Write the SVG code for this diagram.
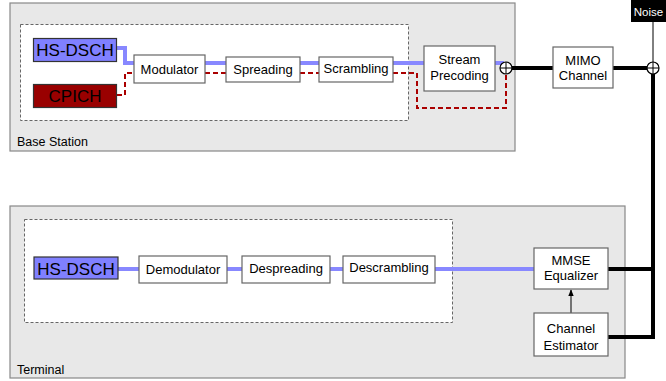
<svg xmlns="http://www.w3.org/2000/svg" width="666" height="381" viewBox="0 0 666 381">
<style>
text{font-family:"Liberation Sans",Arial,sans-serif;font-size:13px;fill:#000;text-anchor:middle}
.region{fill:#e8e8e8;stroke:#888;stroke-width:1.2}
.inner{fill:#fff;stroke:#666;stroke-width:1;stroke-dasharray:3,2}
.blk{fill:#fff;stroke:#666;stroke-width:1.2}
.lbl{text-anchor:start;font-size:12.5px}
.big{font-size:17px}
.blue{fill:none;stroke:#8888ff;stroke-width:4}
.red{fill:none;stroke:#aa0000;stroke-width:2;stroke-dasharray:5,3}
.thick{fill:none;stroke:#000;stroke-width:4}
.thin{fill:none;stroke:#000;stroke-width:1}
.sum{fill:#fff;stroke:#000;stroke-width:1.2}
</style>
<defs>
<marker id="ah" viewBox="0 0 10 10" refX="9" refY="5" markerWidth="7" markerHeight="7" orient="auto">
<path d="M0,1 L10,5 L0,9 z" fill="#000"/>
</marker>
</defs>

<g id="base-station">
<rect class="region" x="10" y="3" width="505" height="148"/>
<rect class="inner" x="20.5" y="24.5" width="388" height="96"/>
<text class="lbl" x="17" y="146">Base Station</text>
</g>
<g id="terminal">
<rect class="region" x="10" y="206" width="615" height="172"/>
<rect class="inner" x="24.5" y="219.5" width="428" height="103"/>
<text class="lbl" x="17" y="374">Terminal</text>
</g>

<g id="connectors">
<path class="blue" d="M117,48 H125 V63 H134"/>
<path class="red" d="M117,95 H125 V73 H134"/>
<path class="blue" d="M205,63 H226"/>
<path class="red" d="M205,73 H226"/>
<path class="blue" d="M300,63 H319"/>
<path class="red" d="M300,73 H319"/>
<path class="blue" d="M393,63 H424"/>
<path class="red" d="M393,73 H417 V108 H506 V74"/>
<path class="blue" d="M495,63 H504"/>
<path class="thick" d="M511,68 H553"/>
<path class="thick" d="M613,68 H647"/>
<path class="thin" d="M653,22 V62"/>
<path class="thick" d="M653,74 V339"/>
<path class="thick" d="M608,269 H653"/>
<path class="thick" d="M608,337 H653"/>
<path class="blue" d="M118,269 H139"/>
<path class="blue" d="M227,269 H242"/>
<path class="blue" d="M330,269 H343"/>
<path class="blue" d="M435,269 H534"/>
<path class="thin" d="M571,313 V290" marker-end="url(#ah)"/>
</g>

<g id="hs-dsch-tx">
<rect x="33.5" y="38.5" width="83" height="23" fill="#8080ff" stroke="#333" stroke-width="1.2"/>
<text class="big" x="75" y="56">HS-DSCH</text>
</g>
<g id="cpich">
<rect x="33.5" y="84.5" width="83" height="23" fill="#990000" stroke="#333" stroke-width="1.2"/>
<text class="big" x="75" y="102">CPICH</text>
</g>
<g id="modulator">
<rect class="blk" x="134" y="55" width="71" height="28"/>
<text x="169.5" y="74">Modulator</text>
</g>
<g id="spreading">
<rect class="blk" x="226" y="57" width="74" height="25"/>
<text x="263" y="74">Spreading</text>
</g>
<g id="scrambling">
<rect class="blk" x="319" y="57" width="74" height="25"/>
<text x="356" y="73">Scrambling</text>
</g>
<g id="stream-precoding">
<rect class="blk" x="424" y="46" width="71" height="45"/>
<text x="459.5" y="64">Stream</text>
<text x="459.5" y="80">Precoding</text>
</g>
<g id="sum-tx">
<circle class="sum" cx="506" cy="68" r="6"/>
<path class="thin" d="M500,68 H512 M506,62 V74"/>
</g>
<g id="mimo-channel">
<rect class="blk" x="553" y="47" width="60" height="41"/>
<text x="583" y="65">MIMO</text>
<text x="583" y="80">Channel</text>
</g>
<g id="noise">
<rect x="631" y="0" width="35" height="22" fill="#000"/>
<text x="648.5" y="16" style="fill:#fff;font-size:11.5px">Noise</text>
</g>
<g id="sum-rx">
<circle class="sum" cx="653" cy="68" r="6"/>
<path class="thin" d="M647,68 H659 M653,62 V74"/>
</g>

<g id="hs-dsch-rx">
<rect x="34" y="257" width="84" height="22" fill="#8080ff" stroke="#333" stroke-width="1.2"/>
<text class="big" x="76" y="274.5">HS-DSCH</text>
</g>
<g id="demodulator">
<rect class="blk" x="139" y="256" width="88" height="27"/>
<text x="183" y="274">Demodulator</text>
</g>
<g id="despreading">
<rect class="blk" x="242" y="256" width="88" height="27"/>
<text x="286" y="273">Despreading</text>
</g>
<g id="descrambling">
<rect class="blk" x="343" y="256" width="92" height="27"/>
<text x="389" y="272">Descrambling</text>
</g>
<g id="mmse-equalizer">
<rect class="blk" x="534" y="248" width="74" height="41"/>
<text x="571" y="265">MMSE</text>
<text x="571" y="280">Equalizer</text>
</g>
<g id="channel-estimator">
<rect class="blk" x="534" y="313" width="74" height="43"/>
<text x="571" y="333">Channel</text>
<text x="571" y="350">Estimator</text>
</g>
</svg>
